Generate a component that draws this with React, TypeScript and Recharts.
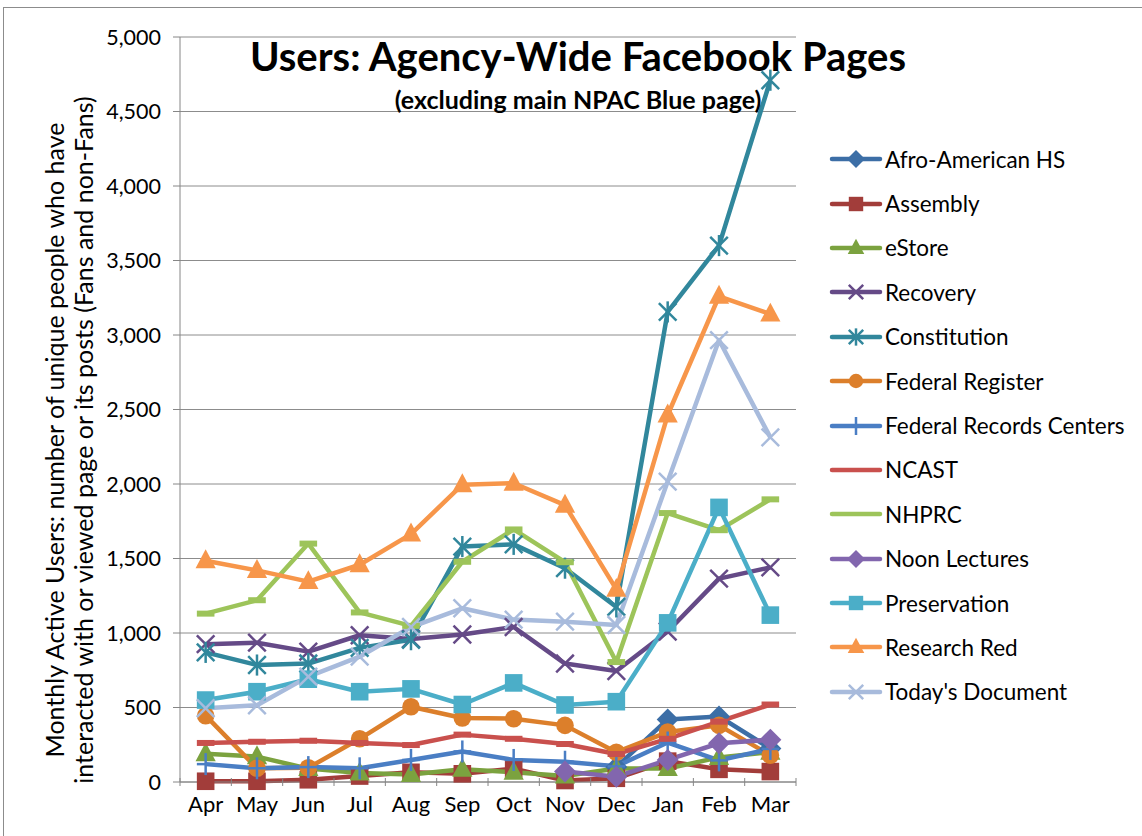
import React from "react";
import { CartesianGrid, Line, LineChart, XAxis, YAxis } from "recharts";

const months = ["Apr", "May", "Jun", "Jul", "Aug", "Sep", "Oct", "Nov", "Dec", "Jan", "Feb", "Mar"];

const afroAmericanHS = [null, null, null, null, null, null, null, null, 100, 420, 440, 225];
const assembly = [5, 5, 15, 40, 65, 55, 90, 10, 25, 140, 85, 70];
const eStore = [190, 170, 90, 60, 50, 85, 65, 40, 90, 90, 165, 200];
const recovery = [925, 935, 875, 985, 960, 990, 1040, 795, 745, 1010, 1365, 1440];
const constitution = [870, 785, 795, 900, 955, 1580, 1595, 1435, 1175, 3155, 3600, 4710];
const federalRegister = [445, 92, 95, 290, 505, 430, 425, 380, 200, 335, 380, 180];
const federalRecordsCenters = [120, 92, 100, 92, 148, 205, 148, 136, 105, 265, 145, 222];
const ncast = [262, 270, 277, 262, 248, 318, 290, 255, 188, 290, 405, 520];
const nhprc = [1130, 1220, 1600, 1138, 1048, 1478, 1695, 1475, 805, 1805, 1690, 1897];
const noonLectures = [null, null, null, null, null, null, null, 70, 36, 148, 260, 284];
const preservation = [550, 606, 690, 606, 625, 520, 665, 517, 539, 1068, 1843, 1120];
const researchRed = [1485, 1420, 1345, 1458, 1664, 1995, 2005, 1858, 1293, 2463, 3260, 3140];
const todaysDocument = [495, 515, 707, 841, 1040, 1166, 1090, 1076, 1054, 2016, 2966, 2313];

const yTicks = [0, 500, 1000, 1500, 2000, 2500, 3000, 3500, 4000, 4500, 5000];

const series = [
  { key: "afro", name: "Afro-American HS", values: afroAmericanHS, color: "#3C6EA6", marker: "diamond", legendMarker: true },
  { key: "assembly", name: "Assembly", values: assembly, color: "#A23D3A", marker: "square", legendMarker: true },
  { key: "estore", name: "eStore", values: eStore, color: "#7BA23F", marker: "triangle", legendMarker: true },
  { key: "recovery", name: "Recovery", values: recovery, color: "#654A87", marker: "x", legendMarker: true },
  { key: "constitution", name: "Constitution", values: constitution, color: "#31879C", marker: "star", legendMarker: true },
  { key: "fedreg", name: "Federal Register", values: federalRegister, color: "#DC7F2B", marker: "circle", legendMarker: true },
  { key: "frc", name: "Federal Records Centers", values: federalRecordsCenters, color: "#4A7EC4", marker: "plus", legendMarker: true },
  { key: "ncast", name: "NCAST", values: ncast, color: "#C9504D", marker: "dash", legendMarker: false },
  { key: "nhprc", name: "NHPRC", values: nhprc, color: "#9DC45A", marker: "dash", legendMarker: false },
  { key: "noon", name: "Noon Lectures", values: noonLectures, color: "#8266AE", marker: "diamond", legendMarker: true },
  { key: "preservation", name: "Preservation", values: preservation, color: "#4BAEC8", marker: "square", legendMarker: true },
  { key: "research", name: "Research Red", values: researchRed, color: "#F7964A", marker: "triangle", legendMarker: true },
  { key: "today", name: "Today's Document", values: todaysDocument, color: "#A8BBDC", marker: "x", legendMarker: true },
];

const data = months.map((month, i) => {
  const row: Record<string, any> = { month };
  series.forEach((s) => {
    row[s.key] = s.values[i];
  });
  return row;
});

const FONT = "Lato, 'Open Sans', sans-serif";
const BAND = 51.3;

function marker(shape: string, cx: number, cy: number, color: string, k: number, key?: any) {
  const s = 8 * k;
  switch (shape) {
    case "diamond":
      return (
        <polygon key={key} points={`${cx},${cy - s * 1.25} ${cx + s * 1.25},${cy} ${cx},${cy + s * 1.25} ${cx - s * 1.25},${cy}`} fill={color} />
      );
    case "square":
      return <rect key={key} x={cx - s} y={cy - s} width={s * 2} height={s * 2} fill={color} />;
    case "triangle":
      return (
        <polygon key={key} points={`${cx},${cy - s * 1.3} ${cx + s * 1.15},${cy + s * 0.85} ${cx - s * 1.15},${cy + s * 0.85}`} fill={color} />
      );
    case "circle":
      return <circle key={key} cx={cx} cy={cy} r={s} fill={color} />;
    case "x":
      return (
        <g key={key} stroke={color} strokeWidth={2.5}>
          <line x1={cx - s} y1={cy - s} x2={cx + s} y2={cy + s} />
          <line x1={cx - s} y1={cy + s} x2={cx + s} y2={cy - s} />
        </g>
      );
    case "star":
      return (
        <g key={key} stroke={color} strokeWidth={2.5}>
          <line x1={cx - s} y1={cy - s} x2={cx + s} y2={cy + s} />
          <line x1={cx - s} y1={cy + s} x2={cx + s} y2={cy - s} />
          <line x1={cx} y1={cy - s * 1.2} x2={cx} y2={cy + s * 1.2} />
        </g>
      );
    case "plus":
      return (
        <g key={key} stroke={color} strokeWidth={2.5}>
          <line x1={cx} y1={cy - s * 1.25} x2={cx} y2={cy + s * 1.25} />
          <line x1={cx - s} y1={cy} x2={cx + s} y2={cy} />
        </g>
      );
    case "dash":
      return <rect key={key} x={cx - s} y={cy - 3} width={s * 2} height={6} fill={color} />;
    default:
      return <g key={key} />;
  }
}

function XTick(props: any) {
  const { x, y, payload, index } = props;
  const top = y - 12;
  return (
    <g>
      <line x1={x - BAND / 2} y1={top} x2={x - BAND / 2} y2={top + 8} stroke="#868686" />
      {index === months.length - 1 && (
        <line x1={x + BAND / 2} y1={top} x2={x + BAND / 2} y2={top + 8} stroke="#868686" />
      )}
      <text x={x} y={y + 22} textAnchor="middle" fontSize={22} fill="#000" fontFamily={FONT}>
        {payload.value}
      </text>
    </g>
  );
}

function ChartLegend() {
  return (
    <div
      style={{
        position: "absolute",
        left: 828,
        top: 137,
        fontFamily: FONT,
        fontSize: 22.5,
        color: "#000",
      }}
    >
      {series.map((s) => (
        <div key={s.key} style={{ height: 44.4, display: "flex", alignItems: "center" }}>
          <svg width={56} height={26} style={{ flex: "none" }}>
            <line x1={4} y1={13} x2={52} y2={13} stroke={s.color} strokeWidth={4.5} strokeLinecap="round" />
            {s.legendMarker && marker(s.marker, 28, 13, s.color, 0.9)}
          </svg>
          <span style={{ marginLeft: 1, whiteSpace: "nowrap" }}>{s.name}</span>
        </div>
      ))}
    </div>
  );
}

export default function App() {
  return (
    <div
      style={{
        position: "absolute",
        left: 0,
        top: 0,
        width: 1142,
        height: 836,
        background: "#fff",
        fontFamily: FONT,
        overflow: "hidden",
      }}
    >
      <div
        style={{
          position: "absolute",
          left: 3,
          top: 7,
          width: 1160,
          height: 860,
          border: "1px solid #8c8c8c",
        }}
      />
      <LineChart
        width={1142}
        height={836}
        data={data}
        margin={{ top: 37, right: 346, bottom: 14, left: 0 }}
      >
        <CartesianGrid vertical={false} stroke="#8c8c8c" strokeWidth={1} />
        <XAxis
          dataKey="month"
          height={40}
          padding={{ left: BAND / 2, right: BAND / 2 }}
          axisLine={{ stroke: "#868686" }}
          tickLine={false}
          tick={<XTick />}
          interval={0}
        />
        <YAxis
          width={180}
          domain={[0, 5000]}
          ticks={yTicks}
          interval={0}
          tickFormatter={(v) => v.toLocaleString("en-US")}
          axisLine={{ stroke: "#868686" }}
          tickLine={{ stroke: "#868686" }}
          tickSize={7}
          tickMargin={12}
          tick={{ fontSize: 21.5, fill: "#000", fontFamily: FONT }}
        />
        {series.map((s) => (
          <Line
            key={s.key}
            dataKey={s.key}
            name={s.name}
            stroke={s.color}
            strokeWidth={4.5}
            strokeLinejoin="round"
            isAnimationActive={false}
            connectNulls={false}
            activeDot={false}
            dot={(p: any) =>
              p.value == null || p.cy == null
                ? <g key={`${s.key}-${p.index}`} />
                : marker(s.marker, p.cx, p.cy, s.color, 1.1, `${s.key}-${p.index}`)
            }
          />
        ))}
      </LineChart>
      <ChartLegend />
      <svg
        width={1142}
        height={836}
        style={{ position: "absolute", left: 0, top: 0, pointerEvents: "none" }}
      >
        <text x={578} y={71} textAnchor="middle" fontSize={40} fontWeight="bold" fill="#000" fontFamily={FONT}>
          Users: Agency-Wide Facebook Pages
        </text>
        <text x={578} y={109} textAnchor="middle" fontSize={25} fontWeight="bold" fill="#000" fontFamily={FONT}>
          (excluding main NPAC Blue page)
        </text>
        <text
          transform="translate(64, 440) rotate(-90)"
          textAnchor="middle"
          fontSize={25}
          fill="#000"
          fontFamily={FONT}
        >
          Monthly Active Users: number of unique people who have
        </text>
        <text
          transform="translate(93, 440) rotate(-90)"
          textAnchor="middle"
          fontSize={25}
          fill="#000"
          fontFamily={FONT}
        >
          interacted with or viewed page or its posts (Fans and non-Fans)
        </text>
      </svg>
    </div>
  );
}
